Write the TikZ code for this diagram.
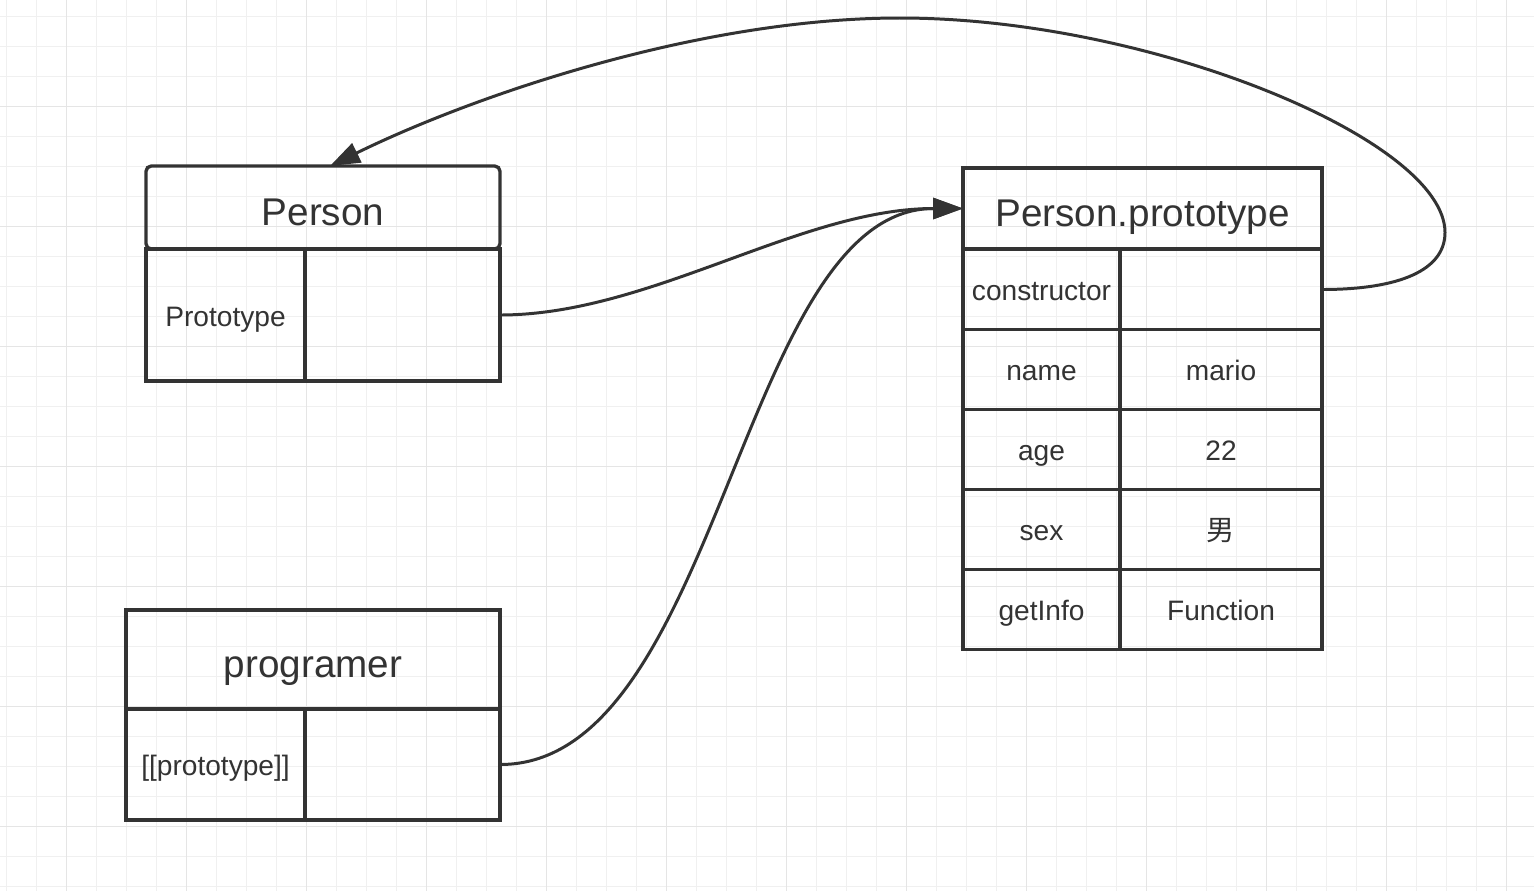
\documentclass[tikz,border=0pt]{standalone}
\usepackage{fontspec}
\setmainfont{Liberation Sans}
\newfontfamily\cjk{Noto Sans CJK SC}
\usetikzlibrary{arrows.meta,positioning}
\definecolor{ink}{RGB}{51,51,51}
\definecolor{gridminor}{RGB}{240,240,240}
\definecolor{gridmajor}{RGB}{229,229,229}

\begin{document}
\begin{tikzpicture}[
  title/.style={draw=ink, line width=1.9pt, outer sep=0pt, text=ink, text height=0.7cm, text depth=0pt, font=\fontsize{22}{26}\selectfont},
  field/.style={draw=ink, line width=1.9pt, outer sep=0pt, text=ink, text height=0.45cm, text depth=0pt, font=\fontsize{16}{19}\selectfont},
  link/.style={-{Triangle[length=0.6cm, width=0.42cm]}, line width=1.7pt, draw=ink}
]
\useasboundingbox[fill=white] (0,0) rectangle (30.68,-17.8);
% background grid
\begin{scope}
\clip (0,0) rectangle (30.68,-17.8);
\draw[gridminor, line width=0.9pt, xshift=0.133cm, yshift=-0.333cm] (-1.2,-19.2) grid[step=0.6cm] (31.2,1.2);
\draw[gridmajor, line width=0.9pt, xshift=1.333cm, yshift=-2.133cm] (-2.4,-19.2) grid[step=2.4cm] (31.2,4.8);
\end{scope}
% Person
\node[field, minimum width=3.18cm, minimum height=2.64cm] (pkey) at (4.51,-6.30) {Prototype};
\node[field, minimum width=3.9cm, minimum height=2.64cm, right=0pt of pkey] (pval) {};
\node[title, rounded corners=3pt, minimum width=7.08cm, minimum height=1.66cm] (person) at (6.46,-4.15) {Person};
% programer
\node[field, minimum width=3.58cm, minimum height=2.22cm] (gkey) at (4.31,-15.29) {[[prototype]]};
\node[field, minimum width=3.9cm, minimum height=2.22cm, right=0pt of gkey] (gval) {};
\node[title, minimum width=7.48cm, minimum height=1.98cm] (programer) at (6.26,-13.19) {programer};
% Person.prototype
\node[title, minimum width=7.18cm, minimum height=1.62cm] (proto) at (22.85,-4.17) {Person.prototype};
\node[field, minimum width=3.14cm, minimum height=1.6cm] (ckey) at (20.83,-5.79) {constructor};
\node[field, minimum width=4.04cm, minimum height=1.6cm, right=0pt of ckey] (cval) {};
\node[field, minimum width=3.14cm, minimum height=1.6cm] (nkey) at (20.83,-7.39) {name};
\node[field, minimum width=4.04cm, minimum height=1.6cm, right=0pt of nkey] (nval) {mario};
\node[field, minimum width=3.14cm, minimum height=1.6cm] (akey) at (20.83,-8.99) {age};
\node[field, minimum width=4.04cm, minimum height=1.6cm, right=0pt of akey] (aval) {22};
\node[field, minimum width=3.14cm, minimum height=1.6cm] (skey) at (20.83,-10.59) {sex};
\node[field, minimum width=4.04cm, minimum height=1.6cm, right=0pt of skey] (sval) {\cjk 男};
\node[field, minimum width=3.14cm, minimum height=1.6cm] (ikey) at (20.83,-12.19) {getInfo};
\node[field, minimum width=4.04cm, minimum height=1.6cm, right=0pt of ikey] (ival) {Function};
% links
\draw[link] (pval.east) .. controls (13,-6.3) and (16,-4.17) .. (proto.west);
\draw[link] (gval.east) .. controls (14.4,-15.3) and (14.8,-4.17) .. (proto.west);
\draw[link] (cval.east) .. controls (28.0,-5.79) and (28.9,-5.4) .. (28.9,-4.65)
  .. controls (28.9,-2.8) and (23,-0.36) .. (18,-0.36)
  .. controls (14,-0.36) and (9.5,-1.9) .. ([xshift=0.14cm]person.north);
\end{tikzpicture}
\end{document}
